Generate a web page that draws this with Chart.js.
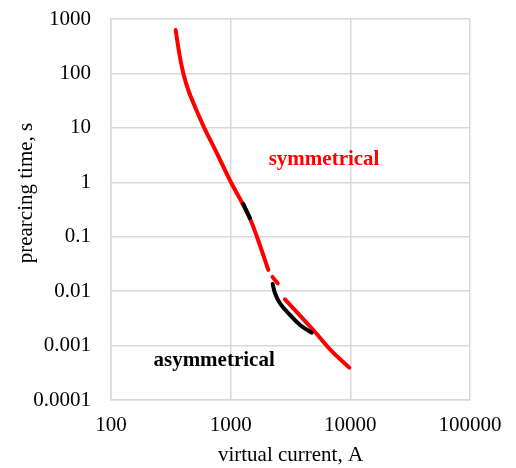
<!DOCTYPE html>
<html>
<head>
<meta charset="utf-8">
<script src="https://cdn.jsdelivr.net/npm/chart.js@4"></script>
<style>
  html, body { margin: 0; padding: 0; background: #fff; }
  #wrap { width: 516px; height: 468px; }
</style>
</head>
<body>
<div id="wrap"><canvas id="myChart" width="516" height="468"></canvas></div>
<script>
// axis ticks (powers of ten)
const currentTicks = [100, 1000, 10000, 100000];
const timeTicks = [0.0001, 0.001, 0.01, 0.1, 1, 10, 100, 1000];

// symmetrical curve, red (virtual current in A, prearcing time in s)
const symUpperI = [347, 372, 402, 442, 503, 599, 776, 993, 1275, 1450, 1650, 2063];
const symUpperT = [628, 234, 100.6, 49.6, 24.5, 10.24, 3.24, 1.056, 0.3825, 0.2162, 0.1031, 0.0245];
const symDashI = [2237, 2472];
const symDashT = [0.0182, 0.0139];
const symLowerI = [2844, 4903, 6761, 9796];
const symLowerT = [0.00708, 0.00193, 0.000855, 0.000393];

// asymmetrical curve, black
const asymUpperI = [1275, 1450];
const asymUpperT = [0.399, 0.218];
const asymLowerI = [2244, 2347, 2584, 3132, 3797, 4753];
const asymLowerT = [0.01352, 0.00914, 0.00598, 0.00365, 0.00239, 0.00173];

const FONT = "'Liberation Serif', 'Times New Roman', serif";
const RED = '#ff0000';
const BLACK = '#000000';
const GRID = '#d9d9d9';

function toPoints(xs, ys) {
    return xs.map((x, i) => ({ x: x, y: ys[i] }));
}

function lineSet(xs, ys, color) {
    return {
        data: toPoints(xs, ys),
        borderColor: color,
        borderWidth: 4,
        borderCapStyle: 'round',
        borderJoinStyle: 'round',
        pointRadius: 0,
        fill: false,
        tension: 0.4
    };
}

// labels inside the plot and the rotated y title
const textPlugin = {
    id: 'curveLabels',
    afterDraw(chart) {
        const ctx = chart.ctx;
        const xs = chart.scales.x;
        const ys = chart.scales.y;
        ctx.save();
        ctx.textAlign = 'center';
        ctx.textBaseline = 'middle';
        ctx.font = 'bold 21px ' + FONT;
        ctx.fillStyle = RED;
        ctx.fillText('symmetrical', xs.getPixelForValue(6030), ys.getPixelForValue(2.57));
        ctx.fillStyle = BLACK;
        ctx.fillText('asymmetrical', xs.getPixelForValue(727), ys.getPixelForValue(0.00054));

        ctx.font = '21px ' + FONT;
        ctx.translate(26, 193);
        ctx.rotate(-Math.PI / 2);
        ctx.fillText('prearcing time, s', 0, 0);
        ctx.restore();
    }
};

const ctx = document.getElementById('myChart').getContext('2d');
new Chart(ctx, {
    type: 'line',
    data: {
        datasets: [
            lineSet(asymUpperI, asymUpperT, BLACK),
            lineSet(asymLowerI, asymLowerT, BLACK),
            lineSet(symUpperI, symUpperT, RED),
            lineSet(symDashI, symDashT, RED),
            lineSet(symLowerI, symLowerT, RED)
        ]
    },
    options: {
        responsive: false,
        animation: false,
        layout: { padding: { left: 0, right: 46, top: 19, bottom: 0 } },
        plugins: {
            legend: { display: false },
            tooltip: { enabled: false }
        },
        scales: {
            x: {
                type: 'logarithmic',
                min: 100,
                max: 100000,
                afterBuildTicks: s => { s.ticks = currentTicks.map(v => ({ value: v })); },
                afterFit: s => {
                    s.height = 68;
                    s.paddingLeft = 0;
                    s.paddingRight = 0;
                },
                grid: { color: GRID, lineWidth: 1.5, drawTicks: false },
                border: { color: GRID, width: 1.5 },
                ticks: {
                    color: BLACK,
                    font: { family: FONT, size: 21 },
                    padding: 13,
                    autoSkip: false,
                    maxRotation: 0,
                    callback: v => String(v)
                },
                title: {
                    display: true,
                    text: 'virtual current, A',
                    color: BLACK,
                    font: { family: FONT, size: 21 },
                    padding: { top: 5, bottom: 0 }
                }
            },
            y: {
                type: 'logarithmic',
                min: 0.0001,
                max: 1000,
                afterBuildTicks: s => { s.ticks = timeTicks.map(v => ({ value: v })); },
                afterFit: s => {
                    s.width = 111;
                    s.paddingTop = 0;
                    s.paddingBottom = 0;
                },
                grid: { color: GRID, lineWidth: 1.5, drawTicks: false },
                border: { color: GRID, width: 1.5 },
                ticks: {
                    color: BLACK,
                    font: { family: FONT, size: 21 },
                    padding: 20,
                    autoSkip: false,
                    callback: v => String(v)
                }
            }
        }
    },
    plugins: [textPlugin]
});
</script>
</body>
</html>
